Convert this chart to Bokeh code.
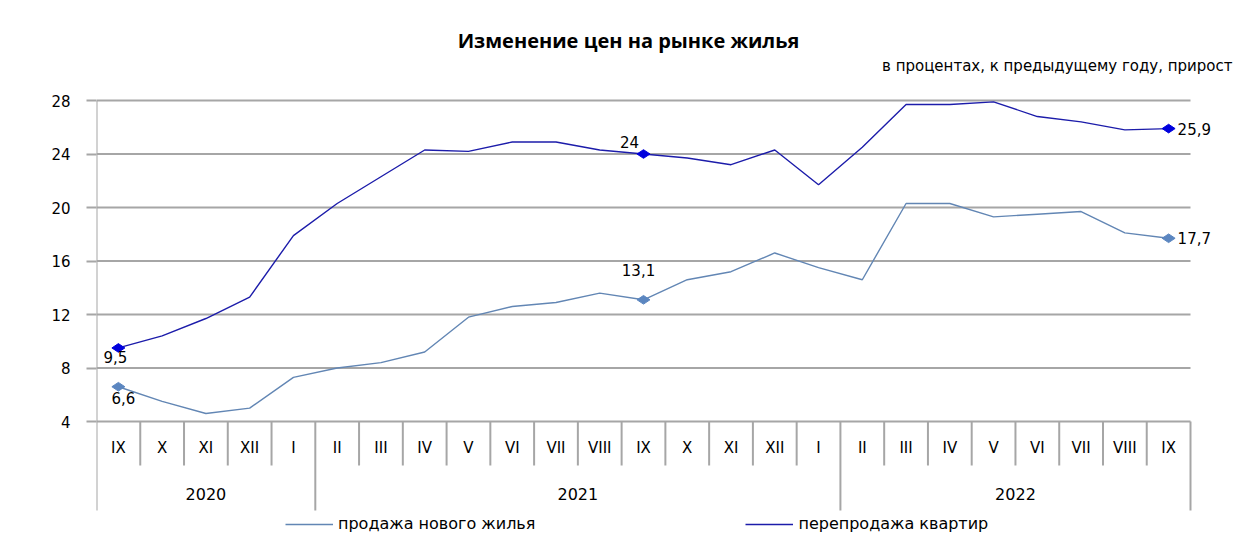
from bokeh.plotting import figure
from bokeh.models import FixedTicker, Label, Legend, LegendItem, Range1d
from bokeh.core.properties import value
from bokeh.embed import file_html
from bokeh.resources import INLINE

# ---------------- data ----------------
years = ["2020", "2020", "2020", "2020", "2020",
         "2021", "2021", "2021", "2021", "2021", "2021", "2021", "2021", "2021", "2021", "2021", "2021",
         "2022", "2022", "2022", "2022", "2022", "2022", "2022", "2022"]
months = ["IX", "X", "XI", "XII", "I",
          "II", "III", "IV", "V", "VI", "VII", "VIII", "IX", "X", "XI", "XII", "I",
          "II", "III", "IV", "V", "VI", "VII", "VIII", "IX"]
new_housing = [6.6, 5.5, 4.6, 5.0, 7.3,
               8.0, 8.4, 9.2, 11.8, 12.6, 12.9, 13.6, 13.1, 14.6, 15.2, 16.6, 15.5,
               14.6, 20.3, 20.3, 19.3, 19.5, 19.7, 18.1, 17.7]
resale = [9.5, 10.4, 11.7, 13.3, 17.9,
          20.3, 22.3, 24.3, 24.2, 24.9, 24.9, 24.3, 24.0, 23.7, 23.2, 24.3, 21.7,
          24.5, 27.7, 27.7, 27.9, 26.8, 26.4, 25.8, 25.9]
y_ticks = [4, 8, 12, 16, 20, 24, 28]
labeled_idx = [0, 12, 24]
name_new = "продажа нового жилья"
name_resale = "перепродажа квартир"
title_text = "Изменение цен на рынке жилья"
subtitle_text = "в процентах, к предыдущему году, прирост"

FONT = "DejaVu Sans"
GRID = "#a6a6a6"
C_NEW_LINE = "#6286b4"
C_NEW_MARK = "#5b86c0"
C_RES_LINE = "#1c1caa"
C_RES_MARK = "#0000dd"

# ---------------- geometry (pixels of the 1250x552 canvas) ----------------
W, H = 1250, 552
FRAME_LEFT = 96
PLOT_W_PX = 1094            # width of the plotting area (25 categories)
TOP_PX, BASE_PX = 100, 421  # pixel rows of 28 and 4
n = len(months)
xs = [i + 0.5 for i in range(n)]          # category centres
PX = (y_ticks[-1] - y_ticks[0]) / (BASE_PX - TOP_PX)   # data units per pixel
Y_TOP = y_ticks[-1]
Y_BASE = y_ticks[0]
Y_ROW = Y_BASE - 44 * PX                  # month row / year row boundary
Y_TABLE_BOTTOM = Y_BASE - 89 * PX         # bottom of the category table
y_start = Y_TOP - (H - TOP_PX) * PX
y_end = Y_TOP + TOP_PX * PX
x_end = (W - FRAME_LEFT) / (PLOT_W_PX / n)

p = figure(width=W, height=H, x_range=Range1d(0, x_end), y_range=Range1d(y_start, y_end),
           output_backend="svg", toolbar_location=None,
           min_border_left=FRAME_LEFT, min_border_right=0, min_border_top=0, min_border_bottom=0)
p.outline_line_color = None
p.background_fill_color = "white"
p.border_fill_color = "white"

p.xaxis.visible = False
p.xgrid.visible = False
p.ygrid.visible = False

# y axis (ticks and labels only; lines drawn below)
p.yaxis.ticker = FixedTicker(ticks=y_ticks)
p.yaxis.axis_line_color = None
p.yaxis.major_tick_line_color = GRID
p.yaxis.major_tick_line_width = 2
p.yaxis.major_tick_in = 0
p.yaxis.major_tick_out = 10
p.yaxis.minor_tick_line_color = None
p.yaxis.major_label_text_font = FONT
p.yaxis.major_label_text_font_size = "15px"
p.yaxis.major_label_text_color = "#000000"
p.yaxis.major_label_standoff = 16

# horizontal grid lines across the 25 categories
p.segment(x0=[0] * len(y_ticks), y0=y_ticks, x1=[n] * len(y_ticks), y1=y_ticks,
          line_color=GRID, line_width=2)

# ---------- category table ----------
short_sep_x = [i for i in range(1, n) if years[i] == years[i - 1]]
long_sep_x = [i for i in range(1, n) if years[i] != years[i - 1]] + [n]
p.segment(x0=short_sep_x, y0=Y_BASE, x1=short_sep_x, y1=Y_ROW, line_color=GRID, line_width=2)
p.segment(x0=long_sep_x, y0=Y_BASE, x1=long_sep_x, y1=Y_TABLE_BOTTOM, line_color=GRID,
          line_width=2)
# left axis line / table border
p.segment(x0=[0], y0=[Y_TOP], x1=[0], y1=[Y_TABLE_BOTTOM], line_color=GRID, line_width=2)

p.text(x=xs, y=[Y_BASE - 26 * PX] * n, text=months, text_align="center",
       text_baseline="middle", text_font=value(FONT), text_font_size="15px",
       text_color="#000000")

year_groups, year_centres = [], []
for yv in dict.fromkeys(years):
    idx = [i for i, v in enumerate(years) if v == yv]
    year_groups.append(yv)
    year_centres.append((idx[0] + idx[-1] + 1) / 2)
p.text(x=year_centres, y=[Y_BASE - 72 * PX] * len(year_groups), text=year_groups,
       text_align="center", text_baseline="middle", text_font=value(FONT),
       text_font_size="16px", text_color="#000000")

# ---------- series ----------
r_new = p.line(x=xs, y=new_housing, line_color=C_NEW_LINE, line_width=1.4)
r_res = p.line(x=xs, y=resale, line_color=C_RES_LINE, line_width=1.4)

lab_x = [xs[i] for i in labeled_idx]
p.scatter(x=lab_x, y=[new_housing[i] for i in labeled_idx], marker="diamond", size=13,
          angle=1.5708, fill_color=C_NEW_MARK, line_color=C_NEW_MARK)
p.scatter(x=lab_x, y=[resale[i] for i in labeled_idx], marker="diamond", size=13,
          angle=1.5708, fill_color=C_RES_MARK, line_color=C_RES_MARK)

def fmt(v):
    s = ("%.1f" % v).replace(".", ",")
    return s[:-2] if s.endswith(",0") else s

lbl_kw = dict(text_font=value(FONT), text_font_size="15px", text_color="#000000")
i0, i1, i2 = labeled_idx
p.text(x=[xs[i0]], y=[resale[i0]], text=[fmt(resale[i0])], text_align="center",
       text_baseline="top", x_offset=-3, y_offset=3, **lbl_kw)
p.text(x=[xs[i0]], y=[new_housing[i0]], text=[fmt(new_housing[i0])], text_align="center",
       text_baseline="top", x_offset=5, y_offset=5, **lbl_kw)
p.text(x=[xs[i1]], y=[resale[i1]], text=[fmt(resale[i1])], text_align="center",
       text_baseline="middle", x_offset=-14, y_offset=-12, **lbl_kw)
p.text(x=[xs[i1]], y=[new_housing[i1]], text=[fmt(new_housing[i1])], text_align="center",
       text_baseline="middle", x_offset=-5, y_offset=-30, **lbl_kw)
p.text(x=[xs[i2]], y=[resale[i2]], text=[fmt(resale[i2])], text_align="left",
       text_baseline="middle", x_offset=9, **lbl_kw)
p.text(x=[xs[i2]], y=[new_housing[i2]], text=[fmt(new_housing[i2])], text_align="left",
       text_baseline="middle", x_offset=9, **lbl_kw)

# ---------- legend ----------
legend = Legend(items=[LegendItem(label=name_new, renderers=[r_new]),
                       LegendItem(label=name_resale, renderers=[r_res])],
                orientation="horizontal", location=(189, 19),
                label_text_font=FONT, label_text_font_size="16px", label_text_color="#000000",
                glyph_width=48, glyph_height=12, label_standoff=5, spacing=210,
                padding=0, margin=0, border_line_color=None, background_fill_alpha=0)
p.add_layout(legend, "center")

# ---------- titles ----------
p.add_layout(Label(x=532, y=H - 40, x_units="screen", y_units="screen", text=title_text,
                   text_font="Open Sans", text_font_style="bold", text_font_size="20px",
                   text_align="center", text_baseline="middle", text_color="#000000"))
p.add_layout(Label(x=1232 - FRAME_LEFT, y=H - 65, x_units="screen", y_units="screen",
                   text=subtitle_text, text_font=FONT, text_font_size="15px",
                   text_align="right", text_baseline="middle", text_color="#000000"))

open("out.html", "w").write(file_html(p, INLINE))
